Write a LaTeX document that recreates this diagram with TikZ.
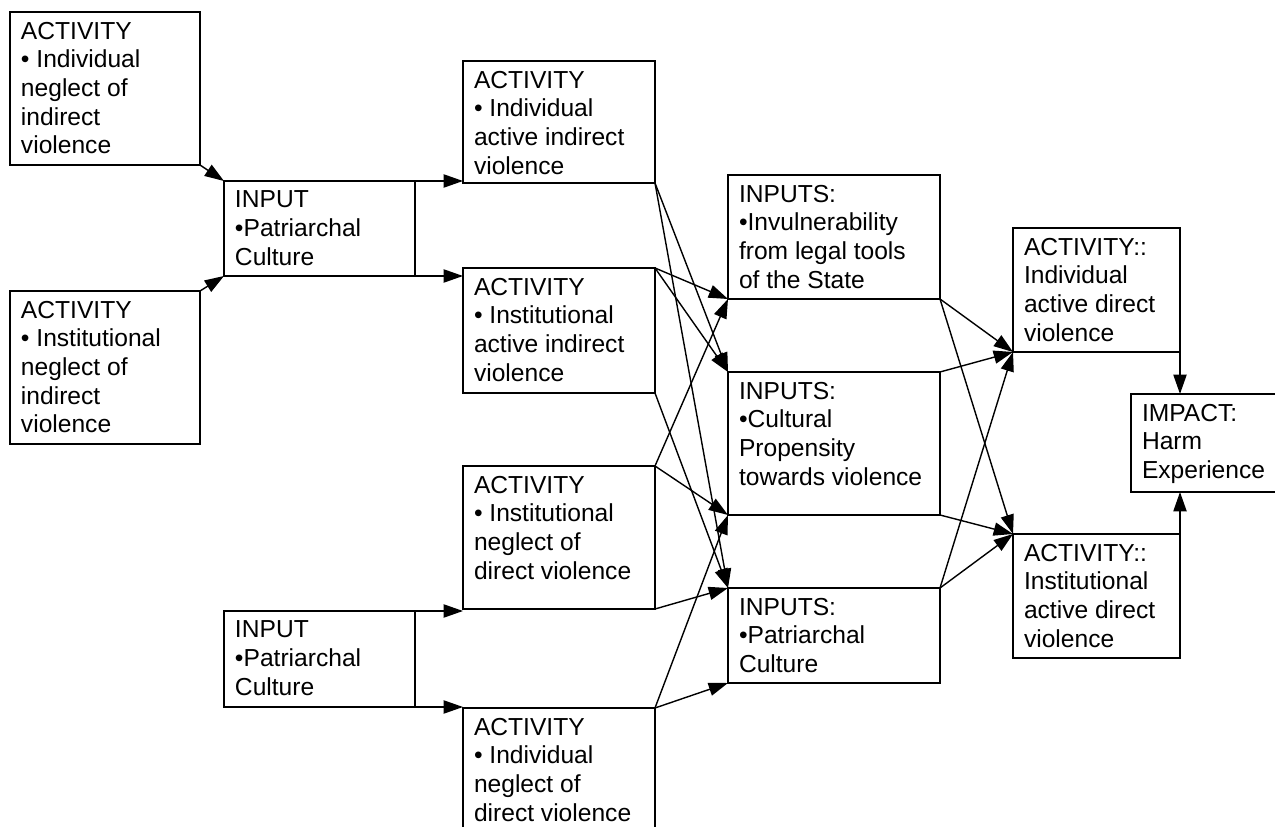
\documentclass[tikz,border=0pt]{standalone}
\usepackage{fontspec}
\setmainfont{Liberation Sans}
\usetikzlibrary{arrows.meta}
\newlength\px
\setlength{\px}{0.02cm}
\newcommand{\boxtext}[3]{\parbox[t][#2\px][t]{#1\px}{\raggedright #3}}

\begin{document}
\begin{tikzpicture}[x=0.02cm,y=-0.02cm,>={Triangle[length=11pt,width=7.5pt]},line width=0.8pt,
  blk/.style={draw,anchor=north west,inner xsep=0.22cm,inner ysep=0.2cm,outer sep=0pt,font=\fontsize{14}{16.3}\selectfont}]
\useasboundingbox (0,0) rectangle (1275,827);
\clip (0,0) rectangle (1275,827);
% first column
\node[blk] (indneg) at (10,12) {\boxtext{168}{133}{ACTIVITY\\• Individual\\neglect of\\indirect\\violence}};
\node[blk] (instneg) at (10,291) {\boxtext{168}{133}{ACTIVITY\\• Institutional\\neglect of\\indirect\\violence}};
\node[blk] (patrA) at (224,181) {\boxtext{169}{75}{INPUT\\•Patriarchal\\Culture}};
\node[blk] (patrB) at (224,611) {\boxtext{169}{76}{INPUT\\•Patriarchal\\Culture}};
% activities
\node[blk] (indact) at (463,61) {\boxtext{170}{102}{ACTIVITY\\• Individual\\active indirect\\violence}};
\node[blk] (instact) at (463,268) {\boxtext{170}{105}{ACTIVITY\\• Institutional\\active indirect\\violence}};
\node[blk] (instdir) at (463,466) {\boxtext{170}{123}{ACTIVITY\\• Institutional\\neglect of\\direct violence}};
\node[blk] (inddir) at (463,708) {\boxtext{170}{130}{ACTIVITY\\• Individual\\neglect of\\direct violence}};
% inputs
\node[blk] (invuln) at (728,175) {\boxtext{190}{104}{INPUTS:\\•Invulnerability\\from legal tools\\of the State}};
\node[blk] (culture) at (728,372) {\boxtext{190}{123}{INPUTS:\\•Cultural\\Propensity\\towards violence}};
\node[blk] (patrC) at (728,588) {\boxtext{190}{75}{INPUTS:\\•Patriarchal\\Culture}};
% outcomes
\node[blk] (actind) at (1013,228) {\boxtext{145}{104}{ACTIVITY::\\Individual\\active direct\\violence}};
\node[blk] (actinst) at (1013,534) {\boxtext{145}{104}{ACTIVITY::\\Institutional\\active direct\\violence}};
\node[blk] (harm) at (1131,394) {\boxtext{160}{78}{IMPACT:\\Harm\\Experience}};

\draw[->] (indneg.south east) -- (patrA.north west);
\draw[->] (instneg.north east) -- (patrA.south west);
\draw[->] (patrA.north east) -- (patrA.north east -| indact.west);
\draw[->] (patrA.south east) -- (patrA.south east -| instact.west);
\draw[->] (patrB.north east) -- (patrB.north east -| instdir.west);
\draw[->] (patrB.south east) -- (patrB.south east -| inddir.west);

\draw[->] (indact.south east) -- (culture.north west);
\draw[->] (indact.south east) -- (patrC.north west);
\draw[->] (instact.north east) -- (invuln.south west);
\draw[->] (instact.north east) -- (culture.north west);
\draw[->] (instact.south east) -- (patrC.north west);
\draw[->] (instdir.north east) -- (invuln.south west);
\draw[->] (instdir.north east) -- (culture.south west);
\draw[->] (instdir.south east) -- (patrC.north west);
\draw[->] (inddir.north east) -- (culture.south west);
\draw[->] (inddir.north east) -- (patrC.south west);

\draw[->] (invuln.south east) -- (actind.south west);
\draw[->] (invuln.south east) -- (actinst.north west);
\draw[->] (culture.north east) -- (actind.south west);
\draw[->] (culture.south east) -- (actinst.north west);
\draw[->] (patrC.north east) -- (actind.south west);
\draw[->] (patrC.north east) -- (actinst.north west);

\draw[->] (actind.south east) -- (actind.south east |- harm.north);
\draw[->] (actinst.north east) -- (actinst.north east |- harm.south);
\end{tikzpicture}
\end{document}
